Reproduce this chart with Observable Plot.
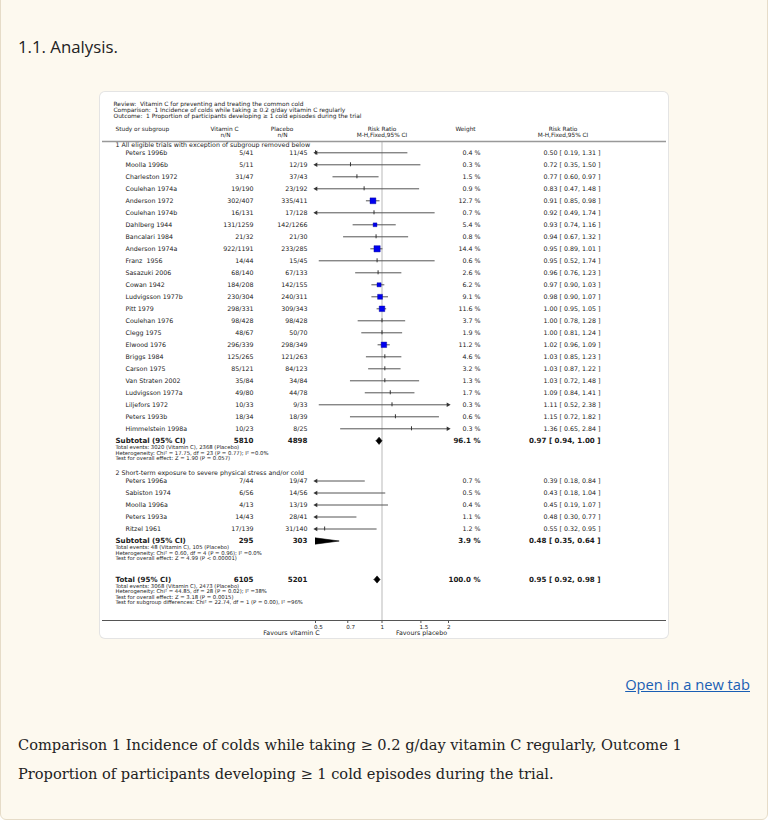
<!DOCTYPE html>
<html><head><meta charset="utf-8">
<script src="https://cdn.jsdelivr.net/npm/d3@7"></script>
<script src="https://cdn.jsdelivr.net/npm/@observablehq/plot@0.6"></script>
<style>
body{margin:0;background:#fff;}
#page{position:relative;width:768px;height:820px;overflow:hidden;}
#card{position:absolute;left:0;top:-8px;width:766px;height:826px;background:#fdf9ef;border:1px solid #e6dcc8;border-radius:6px;}
#title{position:absolute;left:18px;top:35px;font:16.8px/23px "Open Sans";color:#222;}
#box{position:absolute;left:100px;top:92px;width:568px;height:546px;background:#fff;border-radius:5px;box-shadow:0 0 0 1px #e4e4e4;}
#box svg{display:block;}
#link{position:absolute;right:18px;top:674px;font:14.7px/20px "Open Sans";color:#1a5fb4;text-decoration:underline;}
#caption{position:absolute;left:18px;top:730px;width:735px;font:14.6px/29px "DejaVu Serif";color:#222;}
</style></head>
<body>
<div id="page">
<div id="card"></div>
<div id="title">1.1. Analysis.</div>
<div id="box"></div>
<div id="link">Open in a new tab</div>
<div id="caption">Comparison 1 Incidence of colds while taking ≥ 0.2 g/day vitamin C regularly, Outcome 1 Proportion of participants developing ≥ 1 cold episodes during the trial.</div>
</div>
<script>
// ---------- data ----------
const headerLines = [
  "Review:  Vitamin C for preventing and treating the common cold",
  "Comparison:  1 Incidence of colds while taking ≥ 0.2 g/day vitamin C regularly",
  "Outcome:  1 Proportion of participants developing ≥ 1 cold episodes during the trial"
];
const colHeads1 = ["Study or subgroup", "Vitamin C", "Placebo", "Risk Ratio", "Weight", "Risk Ratio"];
const colHeads2 = ["n/N", "n/N", "M-H,Fixed,95% CI", "M-H,Fixed,95% CI"];

const group1Title = "1 All eligible trials with exception of subgroup removed below";
const names1 = ["Peters 1996b","Moolla 1996b","Charleston 1972","Coulehan 1974a","Anderson 1972","Coulehan 1974b","Dahlberg 1944","Bancalari 1984","Anderson 1974a","Franz\u00a0 1956","Sasazuki 2006","Cowan 1942","Ludvigsson 1977b","Pitt 1979","Coulehan 1976","Clegg 1975","Elwood 1976","Briggs 1984","Carson 1975","Van Straten 2002","Ludvigsson 1977a","Liljefors 1972","Peters 1993b","Himmelstein 1998a"];
const vitC1 = ["5/41","5/11","31/47","19/190","302/407","16/131","131/1259","21/32","922/1191","14/44","68/140","184/208","230/304","298/331","98/428","48/67","296/339","125/265","85/121","35/84","49/80","10/33","18/34","10/23"];
const plac1 = ["11/45","12/19","37/43","23/192","335/411","17/128","142/1266","21/30","233/285","15/45","67/133","142/155","240/311","309/343","98/428","50/70","298/349","121/263","84/123","34/84","44/78","9/33","18/39","8/25"];
const weight1 = [0.4,0.3,1.5,0.9,12.7,0.7,5.4,0.8,14.4,0.6,2.6,6.2,9.1,11.6,3.7,1.9,11.2,4.6,3.2,1.3,1.7,0.3,0.6,0.3];
const rr1 = [0.50,0.72,0.77,0.83,0.91,0.92,0.93,0.94,0.95,0.95,0.96,0.97,0.98,1.00,1.00,1.00,1.02,1.03,1.03,1.03,1.09,1.11,1.15,1.36];
const lo1 = [0.19,0.35,0.60,0.47,0.85,0.49,0.74,0.67,0.89,0.52,0.76,0.90,0.90,0.95,0.78,0.81,0.96,0.85,0.87,0.72,0.84,0.52,0.72,0.65];
const hi1 = [1.31,1.50,0.97,1.48,0.98,1.74,1.16,1.32,1.01,1.74,1.23,1.03,1.07,1.05,1.28,1.24,1.09,1.23,1.22,1.48,1.41,2.38,1.82,2.84];
const sub1 = {vit: 5810, pla: 4898, w: 96.1, rr: 0.97, lo: 0.94, hi: 1.00};
const notes1 = [
  "Total events: 3020 (Vitamin C), 2368 (Placebo)",
  "Heterogeneity: Chi² = 17.75, df = 23 (P = 0.77); I² =0.0%",
  "Test for overall effect: Z = 1.90 (P = 0.057)"
];

const group2Title = "2 Short-term exposure to severe physical stress and/or cold";
const names2 = ["Peters 1996a","Sabiston 1974","Moolla 1996a","Peters 1993a","Ritzel 1961"];
const vitC2 = ["7/44","6/56","4/13","14/43","17/139"];
const plac2 = ["19/47","14/56","13/19","28/41","31/140"];
const weight2 = [0.7,0.5,0.4,1.1,1.2];
const rr2 = [0.39,0.43,0.45,0.48,0.55];
const lo2 = [0.18,0.18,0.19,0.30,0.32];
const hi2 = [0.84,1.04,1.07,0.77,0.95];
const sub2 = {vit: 295, pla: 303, w: 3.9, rr: 0.48, lo: 0.35, hi: 0.64};
const notes2 = [
  "Total events: 48 (Vitamin C), 105 (Placebo)",
  "Heterogeneity: Chi² = 0.60, df = 4 (P = 0.96); I² =0.0%",
  "Test for overall effect: Z = 4.99 (P < 0.00001)"
];

const total = {vit: 6105, pla: 5201, w: 100.0, rr: 0.95, lo: 0.92, hi: 0.98};
const totalNotes = [
  "Total events: 3068 (Vitamin C), 2473 (Placebo)",
  "Heterogeneity: Chi² = 44.85, df = 28 (P = 0.02); I² =38%",
  "Test for overall effect: Z = 3.18 (P = 0.0015)",
  "Test for subgroup differences: Chi² = 22.74, df = 1 (P = 0.00), I² =96%"
];
const ticks = [0.5, 0.7, 1, 1.5, 2];
const favours = ["Favours vitamin C", "Favours placebo"];

// ---------- layout ----------
const W = 568, H = 546, ML = 215, MR = 220, ROW = 12;
const XMIN = 0.5, XMAX = 2;
const xs = Plot.scale({x: {type: "log", domain: [XMIN, XMAX], range: [ML, W - MR]}});

const groups = [
  {title: group1Title, names: names1, vit: vitC1, pla: plac1, w: weight1, rr: rr1, lo: lo1, hi: hi1, sub: sub1, notes: notes1},
  {title: group2Title, names: names2, vit: vitC2, pla: plac2, w: weight2, rr: rr2, lo: lo2, hi: hi2, sub: sub2, notes: notes2}
];
const heads = [], rows = [], sums = [], notes = [];
let y = 52.5;
groups.forEach(g => {
  heads.push({y, t: g.title});
  y += 7.8;
  g.names.forEach((nm, i) => {
    rows.push({y, name: nm, vit: g.vit[i], pla: g.pla[i], w: g.w[i], rr: g.rr[i], lo: g.lo[i], hi: g.hi[i]});
    y += ROW;
  });
  sums.push({y, label: "Subtotal (95% CI)", ...g.sub});
  y += 6.7;
  g.notes.forEach(t => { notes.push({y, t}); y += 5.5; });
  y += 9.2;
});
y += 6.1;
sums.push({y, label: "Total (95% CI)", ...total});
y += 6.7;
totalNotes.forEach(t => { notes.push({y, t}); y += 5.5; });
const axisY = 528, headRuleY = 49;

const fmtCI = d => `${d.rr.toFixed(2)} [ ${d.lo.toFixed(2)}, ${d.hi.toFixed(2)} ]`;
const fmtW = d => `${d.w.toFixed(1)} %`;

const hD = 3.6;
const diamonds = [];
sums.forEach((s, i) => {
  [[s.lo, s.y], [s.rr, s.y - hD], [s.hi, s.y], [s.rr, s.y + hD], [s.lo, s.y]].forEach(([px, py]) => diamonds.push({id: i, x: px, y: py}));
});

const H1 = 36.4, H2 = 43.0;
const headerTop = [
  {t: colHeads1[0], y: H1, px: 15, a: "start"},
  {t: colHeads1[1], y: H1, px: 124, a: "middle"},
  {t: colHeads1[2], y: H1, px: 181.5, a: "middle"},
  {t: colHeads1[4], y: H1, px: 365, a: "middle"},
  {t: colHeads1[5], y: H1, px: 462.5, a: "middle"},
  {t: colHeads2[0], y: H2, px: 125, a: "middle"},
  {t: colHeads2[1], y: H2, px: 182, a: "middle"},
  {t: colHeads2[3], y: H2, px: 462.5, a: "middle"}
];
const rrHead = [{t: colHeads1[3], y: H1}, {t: colHeads2[2], y: H2}];

const TXT = "#1a1a1a", FS = 6.3, FSH = 5.8;
function col(data, px, opts) {
  return Plot.text(data, {frameAnchor: "left", dx: px - ML, fill: TXT, fontSize: FS, ...opts});
}

const marks = [
  Plot.ruleX([1], {x: d => d, y1: () => headRuleY, y2: () => axisY, stroke: "#dcdcdc", strokeWidth: 2}),
  Plot.ruleY([headRuleY], {y: d => d, x1: () => xs.invert(2), x2: () => xs.invert(566), stroke: "#999", strokeWidth: 1.5}),
  Plot.ruleY([axisY], {y: d => d, x1: () => xs.invert(2), x2: () => xs.invert(566), stroke: "#555", strokeWidth: 1}),
  Plot.ruleX(ticks, {x: d => d, y1: () => axisY, y2: () => axisY + 3, stroke: "#555"}),
  Plot.text(ticks, {x: d => d, y: () => axisY + 6.5, text: d => String(d), textAnchor: "start", dx: -1.5, fontSize: 5.6, fill: TXT}),
  Plot.ruleY(rows, {y: "y", x1: d => Math.max(d.lo, XMIN), x2: d => Math.min(d.hi, XMAX), stroke: "#555", strokeWidth: 1}),
  Plot.dot(rows.filter(d => d.lo < XMIN), {x: () => XMIN, y: "y", symbol: "triangle", r: 1.7, rotate: -90, fill: "#333", stroke: "none", dx: 0.5}),
  Plot.dot(rows.filter(d => d.hi > XMAX), {x: () => XMAX, y: "y", symbol: "triangle", r: 1.7, rotate: 90, fill: "#333", stroke: "none", dx: -0.5}),
  Plot.ruleX(rows.filter(d => d.w < 5 && d.rr >= XMIN && d.rr <= XMAX), {x: "rr", y1: d => d.y - 2, y2: d => d.y + 2, stroke: "#333", strokeWidth: 1}),
  Plot.dot(rows.filter(d => d.w >= 5), {x: "rr", y: "y", r: "w", symbol: "square", fill: "#0000f0", stroke: "#00008a", strokeWidth: 0.4}),
  Plot.line(diamonds, {x: "x", y: "y", z: "id", fill: "#000", stroke: "#000", strokeWidth: 0.6, clip: true}),
  col(headerLines.map((t, i) => ({t, y: 12 + i * 5.6})), 13, {y: "y", text: "t", textAnchor: "start", fontSize: 5.9}),
  ...headerTop.map(h => col([h], h.px, {y: "y", text: "t", textAnchor: h.a, fontSize: FSH})),
  Plot.text(rrHead, {x: () => 1, y: "y", text: "t", textAnchor: "middle", fontSize: FSH, fill: TXT}),
  col(heads, 15, {y: "y", text: "t", textAnchor: "start"}),
  col(rows, 25, {y: "y", text: "name", textAnchor: "start"}),
  col(rows, 153, {y: "y", text: "vit", textAnchor: "end"}),
  col(rows, 207, {y: "y", text: "pla", textAnchor: "end"}),
  col(rows, 380, {y: "y", text: fmtW, textAnchor: "end"}),
  col(rows, 500, {y: "y", text: fmtCI, textAnchor: "end"}),
  col(sums, 15, {y: "y", text: "label", textAnchor: "start", fontWeight: "bold", fontSize: 7.1}),
  col(sums, 153, {y: "y", text: d => String(d.vit), textAnchor: "end", fontWeight: "bold", fontSize: 7.1}),
  col(sums, 207, {y: "y", text: d => String(d.pla), textAnchor: "end", fontWeight: "bold", fontSize: 7.1}),
  col(sums, 380, {y: "y", text: fmtW, textAnchor: "end", fontWeight: "bold", fontSize: 7.1}),
  col(sums, 500, {y: "y", text: fmtCI, textAnchor: "end", fontWeight: "bold", fontSize: 7.1}),
  col(notes, 15, {y: "y", text: "t", textAnchor: "start", fontSize: 5.3}),
  col([{t: favours[0], y: axisY + 12.5}], 191, {y: "y", text: "t", textAnchor: "middle"}),
  col([{t: favours[1], y: axisY + 12.5}], 321, {y: "y", text: "t", textAnchor: "middle"})
];

const chart = Plot.plot({
  width: W, height: H,
  marginLeft: ML, marginRight: MR, marginTop: 0, marginBottom: 0,
  x: {type: "log", domain: [XMIN, XMAX], axis: null},
  y: {type: "linear", domain: [0, H], range: [0, H], axis: null},
  r: {type: "sqrt", domain: [0, 15], range: [0, 3.6]},
  style: {fontFamily: "DejaVu Sans", background: "transparent", color: TXT},
  marks
});
document.getElementById("box").appendChild(chart);
</script>
</body></html>
